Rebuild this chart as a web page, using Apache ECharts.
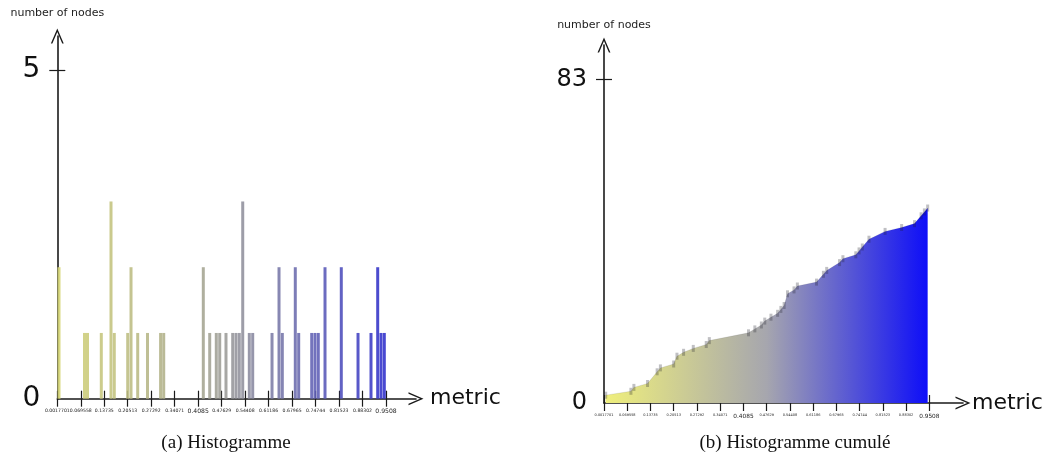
<!DOCTYPE html>
<html><head><meta charset="utf-8">
<script src="https://cdn.jsdelivr.net/npm/echarts@6/dist/echarts.min.js"></script>
<style>html,body{margin:0;padding:0;background:#fff}#c{width:1047px;height:465px}</style>
</head><body><div id="c"></div>
<script>
// x tick labels (metric)
const tickLabels = ["0.0017701","0.069558","0.13735","0.20513","0.27292","0.34071","0.4085","0.47629","0.54408","0.61186","0.67965","0.74744","0.81523","0.88302","0.9508"];
const bigLabels = ["0.4085","0.9508"];
// histogram bins: metric value of each bar and its node count
const binValues = [0.0067,0.0803,0.0890,0.1288,0.1568,0.1663,0.2050,0.2146,0.2339,0.2622,0.3000,0.3090,0.4233,0.4418,0.4608,0.4707,0.4888,0.5082,0.5177,0.5272,0.5371,0.5561,0.5659,0.6217,0.6419,0.6514,0.6889,0.6987,0.7363,0.7458,0.7553,0.7747,0.8217,0.8700,0.9075,0.9268,0.9364,0.9459];
const binCounts = [2,1,1,1,3,1,1,2,1,1,1,1,2,1,1,1,1,1,1,1,3,1,1,1,2,1,2,1,1,1,1,2,2,1,1,2,1,1];
// cumulative histogram
const cumCounts = [2,3,4,5,8,9,10,12,13,14,15,16,18,19,20,21,22,23,24,25,28,29,30,31,33,34,36,37,38,39,40,42,44,45,46,48,49,50];
const yTopLeft = 5, yTopRight = 83;

const tickValues = tickLabels.map(parseFloat);
const chevron = 'path://M0,14 L6,0 L12,14 L10.6,14 L6,3.2 L1.4,14 Z';
const axisColor = '#1a1a1a';
const font = 'DejaVu Sans';

function labelFmt(v){
  let best = 0, d = 1e9;
  tickValues.forEach((t,i)=>{ if(Math.abs(t-v)<d){d=Math.abs(t-v);best=i;} });
  const s = tickLabels[best];
  return bigLabels.includes(s) ? '{b|'+s+'}' : '{a|'+s+'}';
}

function xAxes(grid, max, aSize, bSize, nameGap){
  return [{
    type:'value', gridIndex:grid, min:0.00177, max:max, position:'bottom',
    splitLine:{show:false},
    axisLine:{show:true, lineStyle:{color:axisColor,width:1.6}, symbol:['none',chevron], symbolSize:[13,15]},
    axisTick:{show:true, inside:false, length:8, lineStyle:{color:axisColor,width:1.2}, customValues:tickValues},
    axisLabel:{show:true, margin:10, customValues:tickValues, formatter:labelFmt, color:'#222',
      rich:{a:{fontSize:aSize,fontFamily:font,color:'#222'}, b:{fontSize:bSize,fontFamily:font,color:'#222'}}},
    name:'metric', nameLocation:'end', nameGap:nameGap,
    nameTextStyle:{fontSize:22, fontFamily:font, color:'#111', verticalAlign:'middle', align:'left'}
  },{
    type:'value', gridIndex:grid, min:0.00177, max:max, position:'bottom',
    splitLine:{show:false}, axisLine:{show:false}, axisLabel:{show:false},
    axisTick:{show:true, inside:true, length:8, lineStyle:{color:axisColor,width:1.2}, customValues:tickValues}
  }];
}
function yAxes(grid, max, top, labelSize, nameGap){
  return [{
    type:'value', gridIndex:grid, min:0, max:max, position:'left',
    splitLine:{show:false},
    axisLine:{show:true, lineStyle:{color:axisColor,width:1.6}, symbol:['none',chevron], symbolSize:[13,15]},
    axisTick:{show:true, inside:false, length:8, lineStyle:{color:axisColor,width:1.2}, customValues:[top]},
    axisLabel:{show:true, margin:17, customValues:[0,top], fontSize:labelSize, fontFamily:font, color:'#111'},
    name:'number of nodes', nameLocation:'end', nameGap:nameGap,
    nameTextStyle:{fontSize:11, fontFamily:font, color:'#222', align:'center'}
  },{
    type:'value', gridIndex:grid, min:0, max:max, position:'left',
    splitLine:{show:false}, axisLine:{show:false}, axisLabel:{show:false},
    axisTick:{show:true, inside:true, length:8, lineStyle:{color:axisColor,width:1.2}, customValues:[top]}
  }];
}

const chart = echarts.init(document.getElementById('c'), null, {renderer:'canvas'});
chart.setOption({
  animation:false,
  backgroundColor:'#fff',
  grid:[
    {left:57.3, top:36, width:358.7, height:362.7},
    {left:604, top:45, width:359, height:358}
  ],
  xAxis:[...xAxes(0, 1.0374, 4.6, 6.1, 14), ...xAxes(1, 1.049, 3.5, 5.8, 9)],
  yAxis:[...yAxes(0, 5.517, yTopLeft, 28, 17), ...yAxes(1, 91.8, yTopRight, 24, 14)],
  visualMap:[{
    show:false, type:'continuous', seriesIndex:0, dimension:0, min:0, max:0.95,
    inRange:{color:['#d6d676','#a0a098','#3434cc']}
  }],
  series:[
    {
      type:'bar', xAxisIndex:0, yAxisIndex:0, barWidth:3,
      data: binValues.map((v,i)=>[v, binCounts[i]]),
      itemStyle:{opacity:0.9}
    },
    {
      type:'line', xAxisIndex:2, yAxisIndex:2,
      data: binValues.map((v,i)=>[v, cumCounts[i]]),
      symbol:'rect', symbolSize:[3,7], showSymbol:true,
      itemStyle:{color:'rgba(30,30,40,0.28)'},
      lineStyle:{width:0.8, color:'rgba(60,60,80,0.15)'},
      areaStyle:{opacity:1, color:new echarts.graphic.LinearGradient(0,0,1,0,[
        {offset:0,color:'#efef7c'},{offset:0.5,color:'#a6a6ae'},{offset:1,color:'#0e0ef8'}])}
    }
  ],
  graphic:[
    {type:'text', x:226, y:443, style:{text:'(a) Histogramme', textAlign:'center', textVerticalAlign:'middle', font:'19px "Liberation Serif"', fill:'#111'}},
    {type:'text', x:795, y:443, style:{text:'(b) Histogramme cumulé', textAlign:'center', textVerticalAlign:'middle', font:'19px "Liberation Serif"', fill:'#111'}}
  ]
});
</script>
</body></html>
